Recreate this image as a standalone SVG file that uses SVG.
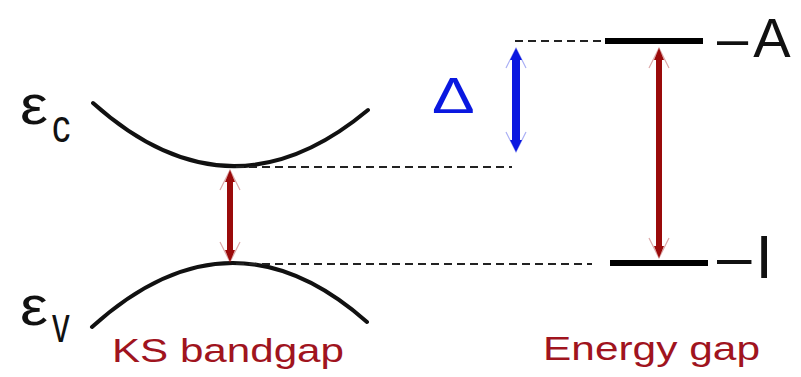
<svg xmlns="http://www.w3.org/2000/svg" width="801" height="377" viewBox="0 0 801 377">
<style>
  .band { fill: none; stroke: #111; stroke-width: 4; stroke-linecap: round; }
  .dash { stroke: #222; stroke-width: 2; stroke-dasharray: 8 5; }
  .level { stroke: #000; stroke-width: 6; }
  .sym { font-family: "Liberation Sans", Arial, sans-serif; fill: #111; }
  .cap { font-family: "Liberation Sans", Arial, sans-serif; fill: #a0141e; font-size: 33px; }
  .red { stroke: #9a0a0a; stroke-width: 6; }
  .blue { stroke: #0a18e0; stroke-width: 8; }
</style>
<defs>
  <marker id="hr" markerUnits="userSpaceOnUse" orient="auto-start-reverse" refX="0" refY="0" markerWidth="1" markerHeight="1" overflow="visible">
    <path d="M0,-5 L12,0 L0,5 z" fill="#9a0a0a"/>
    <path d="M-8,-10 L12,0 L-8,10" fill="none" stroke="#9a0a0a" stroke-width="1.2" opacity="0.35"/>
  </marker>
  <marker id="hb" markerUnits="userSpaceOnUse" orient="auto-start-reverse" refX="0" refY="0" markerWidth="1" markerHeight="1" overflow="visible">
    <path d="M0,-6 L12,0 L0,6 z" fill="#0a18e0"/>
    <path d="M-8,-10 L12,0 L-8,10" fill="none" stroke="#0a18e0" stroke-width="1.2" opacity="0.35"/>
  </marker>
</defs>

<g id="conduction-band">
  <path class="band" d="M93,103 Q229.5,225.5 368,110"/>
  <g class="sym" transform="translate(20,124) scale(1.12,1)"><text x="0" y="0" font-size="56">ε</text></g>
  <g class="sym" transform="translate(52,142) scale(0.8,1)"><text x="0" y="0" font-size="46">c</text></g>
</g>

<g id="valence-band">
  <path class="band" d="M92,327 Q230.5,201.5 367,322"/>
  <g class="sym" transform="translate(20,325) scale(1.12,1)"><text x="0" y="0" font-size="56">ε</text></g>
  <g class="sym" transform="translate(52,342) scale(0.68,1)"><text x="0" y="0" font-size="52">v</text></g>
</g>

<g id="level-A">
  <line class="level" x1="605" y1="41" x2="703" y2="41"/>
  <text class="sym" x="717" y="57" font-size="56">–<tspan dx="5">A</tspan></text>
</g>

<g id="level-I">
  <line class="level" x1="610" y1="263" x2="708" y2="263"/>
  <text class="sym" x="717" y="278" font-size="62">–<tspan dx="4">I</tspan></text>
</g>

<g id="delta-label">
  <g transform="translate(432,113) scale(1.28,1)"><text x="0" y="0" font-family="Liberation Sans, Arial, sans-serif" font-size="50" fill="#0a18e0">Δ</text></g>
</g>

<g id="captions">
  <text class="cap" x="112" y="362" textLength="232" lengthAdjust="spacingAndGlyphs">KS bandgap</text>
  <text class="cap" x="543" y="360" textLength="217" lengthAdjust="spacingAndGlyphs">Energy gap</text>
</g>

<g id="connectors">
  <line class="dash" x1="236" y1="167" x2="512" y2="167"/>
  <line class="dash" x1="236" y1="264" x2="592" y2="264"/>
  <line class="dash" x1="515" y1="41" x2="605" y2="41"/>
  <line class="red" x1="230" y1="182" x2="230" y2="250" marker-start="url(#hr)" marker-end="url(#hr)"/>
  <line class="red" x1="659" y1="60" x2="659" y2="246" marker-start="url(#hr)" marker-end="url(#hr)"/>
  <line class="blue" x1="516" y1="60" x2="516" y2="140" marker-start="url(#hb)" marker-end="url(#hb)"/>
</g>
</svg>
